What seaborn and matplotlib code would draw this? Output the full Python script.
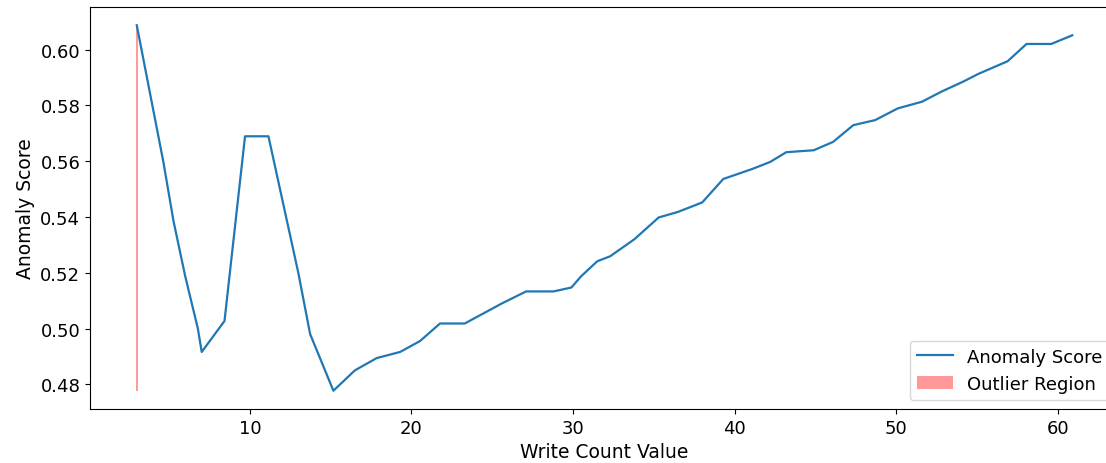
import numpy as np
import seaborn as sns
import matplotlib
matplotlib.use('Agg')
import matplotlib.pyplot as plt

# write count values (x) and anomaly scores
write_counts = [3, 4.65, 5.27, 6.0, 6.78, 7.02, 8.43, 9.70, 11.15, 13.0, 13.73, 15.17,
                16.5, 17.85, 19.3, 20.53, 21.77, 23.3, 25.6, 27.1, 28.8, 29.9, 30.5,
                31.5, 32.3, 33.8, 35.3, 36.5, 38.0, 39.3, 41.1, 42.2, 43.2, 44.9, 46.1,
                47.35, 48.7, 50.1, 51.6, 52.8, 54.15, 55.1, 56.9, 58.07, 59.6, 60.9]
anomaly_scores = [0.6087, 0.5596, 0.5386, 0.5187, 0.5000, 0.4916, 0.5027, 0.5689, 0.5689,
                  0.5199, 0.4980, 0.4777, 0.4850, 0.4894, 0.4916, 0.4955, 0.5018, 0.5018,
                  0.5090, 0.5133, 0.5133, 0.5147, 0.5187, 0.5241, 0.5259, 0.5320, 0.5398,
                  0.5418, 0.5452, 0.5536, 0.5572, 0.5597, 0.5632, 0.5639, 0.5669, 0.5729,
                  0.5747, 0.5789, 0.5813, 0.5849, 0.5885, 0.5913, 0.5958, 0.6020, 0.6020,
                  0.6051]
outlier_values = [3]

x = np.array(write_counts)
y = np.array(anomaly_scores)
mask = np.isin(x, outlier_values)

fig = plt.figure(figsize=(11.06, 4.64), dpi=100)
# axes runs a little past the right edge, as in the cropped reference
ax = fig.add_axes([90 / 1106, 54 / 464, 1029 / 1106, 402 / 464])

sns.lineplot(x=x, y=y, ax=ax, color='#1f77b4', linewidth=1.6, label='Anomaly Score')
ax.fill_between(x, y.min(), y.max(), where=mask, color='red', alpha=0.4,
                linewidth=1.4, label='Outlier Region')

ax.set_xlabel('Write Count Value', fontsize=13.5)
ax.set_ylabel('Anomaly Score', fontsize=13.5)
ax.tick_params(labelsize=13)
leg = ax.legend(loc='lower right', fontsize=13)
leg.legend_handles[1].set_linewidth(0)

fig.savefig('out.png', dpi=100)
